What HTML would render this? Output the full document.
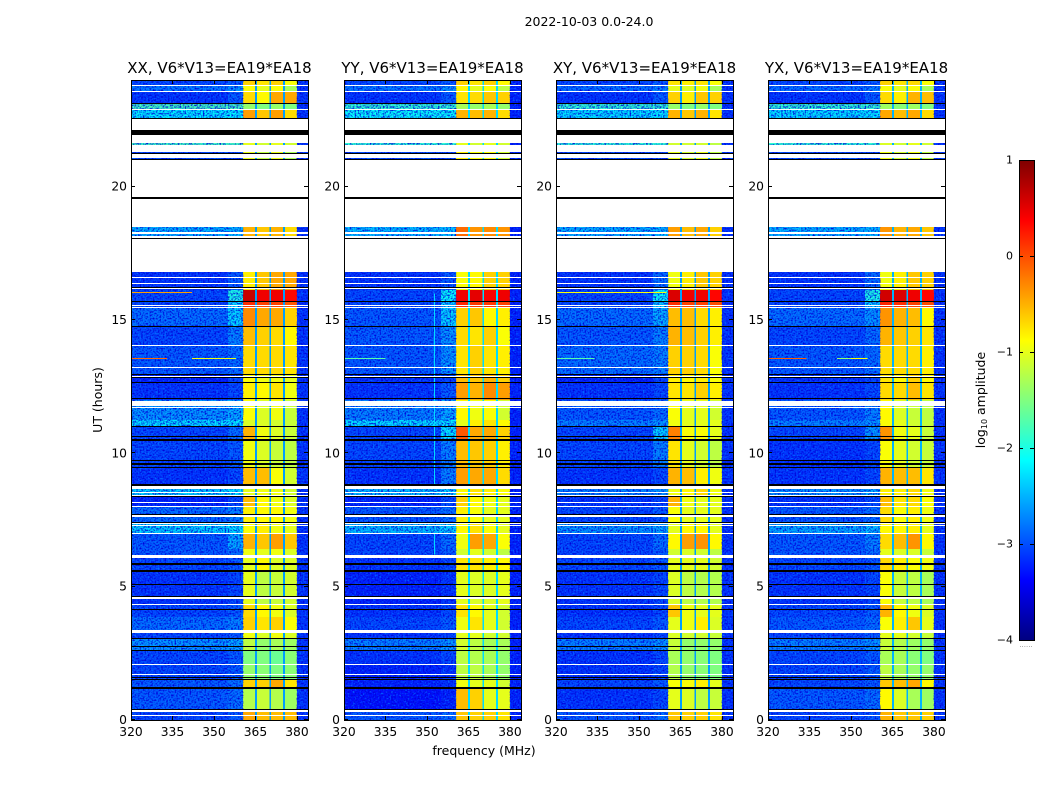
<!DOCTYPE html>
<html>
<head>
<meta charset="utf-8">
<title>Amplitude waterfall 2022-10-03</title>
<style>
html,body{margin:0;padding:0;background:#fff;}
svg{display:block;font-family:"DejaVu Sans","Liberation Sans",sans-serif;fill:#000;}
</style>
</head>
<body>
<svg id="chart" xmlns="http://www.w3.org/2000/svg" width="1050" height="800" viewBox="0 0 1050 800">
  <defs>
    <filter id="speckle-light" x="0" y="0" width="100%" height="100%" color-interpolation-filters="sRGB">
      <feTurbulence type="fractalNoise" baseFrequency="0.6" numOctaves="1" seed="3"/>
      <feColorMatrix values="0 0 0 0 0  0 0 0 0 0.5  0 0 0 0 1  3 0 0 0 -1.55"/>
    </filter>
    <filter id="speckle-dark" x="0" y="0" width="100%" height="100%" color-interpolation-filters="sRGB">
      <feTurbulence type="fractalNoise" baseFrequency="0.6" numOctaves="1" seed="11"/>
      <feColorMatrix values="0 0 0 0 0  0 0 0 0 0  0 0 0 0 0.85  3 0 0 0 -1.3"/>
    </filter>
    <linearGradient id="jet-gradient" x1="0" y1="1" x2="0" y2="0"></linearGradient>
  </defs>
  <rect x="0" y="0" width="1050" height="800" fill="#fff"/>
  <text x="589" y="26" font-size="12.5" text-anchor="middle">2022-10-03 0.0-24.0</text>
  <text x="484" y="755" font-size="12.5" text-anchor="middle">frequency (MHz)</text>
  <text x="102" y="400" font-size="12.5" text-anchor="middle" transform="rotate(-90 102 400)">UT (hours)</text>
  <g id="panels"></g>
  <g id="colorbar"></g>
  <text x="985" y="400" font-size="12.5" text-anchor="middle" transform="rotate(-90 985 400)">log<tspan font-size="8" dy="2">10</tspan><tspan dy="-2"> amplitude</tspan></text>
  <text x="1026" y="647" font-size="7" fill="#888" text-anchor="middle">......</text>
</svg>
<script>
// ---- chart data ----
const panelTitles = ["XX, V6*V13=EA19*EA18","YY, V6*V13=EA19*EA18","XY, V6*V13=EA19*EA18","YX, V6*V13=EA19*EA18"];
const panelKeys = ["xx","yy","xy","yx"];
const freqTicks = [320,335,350,365,380];
const utTicks = [0,5,10,15,20];
const colorbarTicks = [1,0,-1,-2,-3,-4];
// frequency column edges in MHz: low band, near band, A, gap, B, gap, C, gap, D, high edge
const freqEdges = [320,355,360.5,364.8,365.5,370,370.6,375,375.7,380,384];
// UT edges in hours, one more than rows in each level table
const utEdges = [0,0.34,1.16,1.5,2.1,2.59,3.04,3.34,3.86,4.35,5.59,6.07,6.4,7.0,7.43,8,8.36,8.85,9.45,10.5,10.99,11.25,12,12.64,12.97,14.03,14.74,15.45,15.7,16.125,18.075,19,21,21.56,22.54,22.86,23.14,23.59,23.79,24];
// log10 amplitude per UT row: [low, near, A, B, C, D]
const levelsXX = [
[-3,-2.9,-.45,-.55,-.55,-.55],[-2.9,-2.8,-1.25,-1.15,-1.25,-1.35],[-2.9,-2.8,-.65,-.65,-.45,-.75],[-3,-2.9,-1.4,-1.45,-1.5,-1.45],
[-3,-2.9,-1.5,-1.5,-1.6,-1.45],[-2.6,-2.5,-1.2,-1.4,-1.3,-1.35],[-3,-2.9,-.95,-1.05,-.95,-1.05],[-2.8,-2.7,-.65,-.75,-.65,-.9],
[-3,-2.9,-.7,-.85,-.95,-1.05],[-3.1,-3,-1,-1.2,-1.15,-1.1],[-3,-2.9,-1,-.85,-1.05,-1.05],[-2.9,-2.8,-.95,-1,-.95,-1.05],[-2.9,-2.5,-.5,-.6,-.4,-.6],
[-2.3,-2.2,-.9,-.8,-.95,-1],[-2.8,-2.7,-.8,-.85,-.85,-.95],[-3.2,-3,-.55,-.85,-.95,-1.05],[-2.3,-2.2,-1,-.95,-.95,-1.1],
[-3.1,-3,-.55,-.55,-.9,-1.1],[-3,-2.9,-.95,-1.05,-1.15,-1.2],[-3,-2.8,-.5,-.95,-1.05,-1.15],[-2.25,-2.2,-1.05,-1.05,-1.1,-1.15],
[-2.6,-2.5,-.9,-1.05,-.95,-1.15],[-3.1,-3,-.8,-.85,-.75,-.95],[-3.2,-3,-.9,-.95,-.95,-1],[-2.9,-2.8,-.7,-.7,-.7,-.75],
[-3,-2.7,-.55,-.65,-.7,-.85],[-2.8,-2.3,-.3,-.45,-.45,-.65],[-3,-2.2,.15,.05,.05,-.05],[-3,-2,.65,.45,.45,.35],[-3.1,-2.9,-.8,-.6,-.45,-.45],
[-2.45,-2.4,-.5,-.6,-.5,-.7],[-2.45,-2.4,-.5,-.6,-.5,-.7],[-3,-3,-1,-1.2,-1,-1.3],[-1.8,-1.8,-1,-1.1,-1,-1.1],
[-2.2,-2.15,-.4,-.6,-.4,-.7],[-1.8,-1.8,-1.4,-1.5,-1.4,-1.5],[-3.1,-2.9,-.7,-.85,-.45,-.45],[-2.75,-2.6,-.9,-1,-.9,-1.3],[-3,-2.9,-.65,-.75,-.65,-.9]];
const levelsYY = [
[-2.9,-2.8,-.6,-.65,-.65,-.75],[-3.3,-3.2,-.55,-.65,-1,-1],[-3.2,-3.1,-.95,-1,-1,-1.1],[-3.2,-3.1,-1.2,-1.2,-1.3,-1.4],
[-3.1,-3,-1.2,-1.25,-1.3,-1.4],[-2.7,-2.6,-1.1,-1.2,-1.3,-1.3],[-3.1,-3,-1,-1,-1.1,-1.1],[-3,-2.9,-.95,-.75,-1,-1.1],
[-3.1,-3,-.75,-.85,-1,-1.1],[-3.2,-3.1,-1,-1.05,-1.05,-1],[-3.1,-3,-.75,-.75,-.8,-.85],[-3,-2.9,-1.1,-1,-1.1,-1.2],[-3,-2.8,-.95,-.4,-.45,-.9],
[-2.4,-2.3,-.85,-.75,-.9,-1],[-2.9,-2.8,-.8,-.9,-1,-1],[-3.2,-3,-.65,-.85,-.95,-1],[-2.4,-2.3,-.85,-.75,-.8,-.9],
[-3.1,-2.7,-.4,-.45,-.45,-.7],[-3,-2.7,-.55,-.6,-.65,-.8],[-3,-2.2,-.05,-.45,-.45,-.65],[-2.25,-2.2,-1,-.8,-.75,-.85],
[-2.7,-2.5,-.85,-.95,-.9,-1.1],[-3.1,-2.9,-.4,-.5,-.3,-.4],[-3.1,-3,-.55,-.6,-.5,-.65],[-2.9,-2.6,-.75,-.65,-.75,-.8],
[-2.9,-2.6,-.7,-.75,-.65,-.9],[-2.9,-2.3,-.65,-.6,-.85,-.8],[-3,-2.3,.2,.1,.1,.05],[-3,-2.1,.45,.5,.4,.45],[-3.1,-2.9,-.9,-.85,-.65,-.65],
[-2.4,-2.35,-.15,-.35,-.3,-.35],[-2.4,-2.35,-.15,-.35,-.3,-.35],[-3,-3,-.8,-.9,-.9,-1.1],[-1.9,-1.9,-1,-1.1,-1,-1.1],
[-2.1,-2.1,-.5,-.55,-.5,-.7],[-1.9,-1.9,-1.3,-1.4,-1.3,-1.4],[-3.1,-2.9,-.75,-.7,-.6,-.65],[-2.75,-2.6,-.85,-1,-.9,-1.2],[-3,-2.9,-.65,-.75,-.65,-.85]];
const levelsXY = [
[-2.9,-2.8,-.6,-.65,-.65,-.75],[-3.1,-3,-1,-1.05,-1.2,-1.15],[-3,-2.9,-.9,-.9,-.8,-1],[-3.1,-3,-1.25,-1.4,-1.45,-1.5],
[-3.1,-3,-1.3,-1.4,-1.45,-1.5],[-2.7,-2.6,-1.15,-1.4,-1.4,-1.4],[-3.1,-3,-1.05,-1.1,-1.1,-1.15],[-3,-2.9,-1,-.95,-.8,-1.05],
[-3.1,-3,-.6,-.95,-1,-1],[-3.1,-3,-1.05,-1.2,-1.25,-1.25],[-3,-2.9,-1,-1,-1,-1.1],[-3,-2.9,-1.1,-1.05,-1.1,-1.2],[-3,-2.8,-.85,-.4,-.35,-.85],
[-2.6,-2.5,-1,-.85,-.85,-1],[-3,-2.9,-.9,-1,-1,-1],[-3.1,-3,-.5,-.95,-1,-1],[-2.7,-2.6,-.95,-.85,-.7,-.95],
[-3.1,-3,-.5,-.55,-.8,-.95],[-3,-2.7,-.75,-1,-1.1,-1.2],[-3,-2.3,-.25,-.9,-.9,-1],[-2.7,-2.6,-.95,-1,-1,-1],
[-2.9,-2.8,-.9,-1,-1,-1.1],[-3.1,-3,-.75,-.75,-.65,-.8],[-3.2,-3,-.8,-.85,-.8,-.9],[-2.8,-2.7,-.65,-.65,-.7,-.9],
[-2.9,-2.7,-.5,-.55,-.65,-.8],[-2.8,-2.5,-.55,-.55,-.7,-.8],[-3,-2.3,.15,.05,.05,0],[-3,-2.1,.55,.45,.45,.35],[-3.1,-2.8,-.95,-.8,-.6,-.65],
[-2.45,-2.4,-.4,-.55,-.45,-.65],[-2.45,-2.4,-.4,-.55,-.45,-.65],[-3,-3,-1,-1.1,-1,-1.2],[-1.9,-1.9,-1.1,-1.1,-1.1,-1.2],
[-2.25,-2.2,-.5,-.6,-.5,-.75],[-1.9,-1.9,-1.4,-1.5,-1.4,-1.5],[-3.1,-2.9,-.65,-.8,-.6,-.65],[-2.8,-2.7,-1,-1.05,-.95,-1.3],[-3,-2.9,-.75,-.8,-.75,-.9]];
const levelsYX = [
[-3,-2.9,-.5,-.6,-.6,-.65],[-2.9,-2.8,-.85,-1.05,-1.3,-1.35],[-3,-2.9,-.6,-.55,-.45,-.85],[-3,-2.9,-1.2,-1.3,-1.4,-1.4],
[-3,-2.9,-1.3,-1.3,-1.45,-1.5],[-2.7,-2.6,-1.15,-1.25,-1.35,-1.4],[-3,-2.9,-1,-1,-1.1,-1.15],[-2.9,-2.8,-.9,-.8,-.6,-1],
[-3,-2.9,-.5,-.85,-.95,-1.05],[-3.1,-3,-.9,-1.15,-1.2,-1.3],[-3,-2.9,-.7,-.8,-.9,-.95],[-2.9,-2.8,-1,-1.05,-1.05,-1.15],[-2.9,-2.7,-.7,-.55,-.35,-.85],
[-2.5,-2.4,-.85,-.85,-.8,-1],[-2.9,-2.8,-.7,-.9,-.8,-.95],[-3.1,-3,-.55,-.75,-.7,-.9],[-2.6,-2.5,-.8,-.8,-.7,-.95],
[-3.1,-3,-.5,-.55,-.55,-.75],[-3.1,-3,-.9,-1,-1.1,-1.15],[-3,-2.6,-.35,-.95,-1,-1.15],[-2.7,-2.6,-.9,-1,-1.1,-1.15],
[-2.9,-2.7,-.85,-1.05,-1.15,-1.2],[-3.1,-3,-.7,-.7,-.55,-.75],[-3.1,-3,-.75,-.85,-.65,-.85],[-2.9,-2.8,-.7,-.7,-.7,-.8],
[-3,-2.8,-.5,-.6,-.65,-.75],[-2.8,-2.6,-.35,-.5,-.55,-.85],[-3,-2.3,.2,.15,.05,0],[-3,-2,.6,.55,.45,.35],[-3.1,-2.8,-.95,-.8,-.6,-.65],
[-2.45,-2.4,-.35,-.5,-.45,-.6],[-2.45,-2.4,-.35,-.5,-.45,-.6],[-3,-3,-.95,-1.1,-.95,-1.2],[-1.9,-1.9,-1.05,-1.1,-1,-1.1],
[-2.25,-2.2,-.45,-.55,-.45,-.7],[-1.9,-1.9,-1.35,-1.45,-1.35,-1.5],[-3.1,-2.9,-.7,-.8,-.5,-.55],[-2.8,-2.7,-.9,-1,-.9,-1.3],[-3,-2.9,-.65,-.75,-.7,-.9]];
const panelLevels = [levelsXX,levelsYY,levelsXY,levelsYX];
// log10 amplitude of the narrow gaps between blocks and of the top edge
const gapLevels = [-2.6,-2.3,-2.6,-2.5];
const edgeLevels = [-3.1,-3.2,-3.1,-3.1];
// flagged intervals in UT hours, shared by all panels
const whiteStarts = [23.775,23.56,22.875,22.125,21.64,21.3,21.09,19.61,18.49,18.21,18.075,16.8,16.585,16.36,16.15,15.54,15.45,14.03,13.21,12.86,11.79,11.7,8.65,8.5,8.4,8.13,7.99,7.6,7.36,7.28,6.99,6.06,4.55,4.33,3.27,2.07,1.71,0.31,0.14];
const whiteEnds   = [23.8125,23.6,22.92,22.52,21.94,21.56,21.21,20.99,19.55,18.31,18.15,18.04,16.62,16.39,16.2,15.58,15.49,14.06,13.25,12.91,11.97,11.74,8.775,8.54,8.44,8.16,8.03,7.67,7.41,7.33,7.02,6.19,4.6,4.36,3.375,2.11,1.74,0.375,0.19];
const blackStarts = [23.1,22.52,21.94,21.21,20.99,19.55,18.04,16.2,15.675,14.74,12.92,12.825,12.64,12.06,11.01,10.61,10.48,9.71,9.58,9.44,8.775,8.36,7.69,7.41,5.83,5.56,5.06,4.6,4.11,3.02,2.76,2.58,1.58,1.5,1.16,0.39];
const blackEnds   = [23.14,22.56,22.125,21.25,21.03,19.61,18.075,16.24,15.7,14.775,12.97,12.86,12.675,12.09,11.04,10.65,10.52,9.75,9.62,9.49,8.85,8.4,7.725,7.44,5.87,5.625,5.11,4.65,4.16,3.06,2.79,2.625,1.61,1.54,1.23,0.43];
// narrow-line interference: panel index, start MHz, end MHz, UT, log10 amplitude
const rfiPanels = [0,0,3,3,3,2,2,1,0,2];
const rfiStarts = [320,342,320,345,350,320,320,320,320,320];
const rfiEnds   = [333,358,334,350,356,360,334,335,342,360];
const rfiUts    = [13.57,13.57,13.57,13.57,13.57,16.05,13.57,13.57,16.05,16.05];
const rfiLevels = [-.15,-.95,-.1,-1.4,-.9,-.9,-1.7,-1.7,-.4,-.9];
// vertical interference: panel index, MHz, UT start, UT end, log10 amplitude
const vlinePanels = [1,1];
const vlineFreqs = [352.5,352.5];
const vlineStarts = [6.2,8.85];
const vlineEnds = [7.0,16.0];
const vlineLevels = [-2.3,-2.3];

// ---- layout and scales ----
const svgNS = "http://www.w3.org/2000/svg";
const panelLefts = [131,344,556,768];
const plotWidth = 177, plotTop = 80, plotBottom = 720;
const freqMin = 320, freqMax = 384, utMax = 24;
const cmin = -4, cmax = 1;
const cbLeft = 1019, cbWidth = 15, cbTop = 160, cbBottom = 640;
function xScale(p,f){ return panelLefts[p] + (f-freqMin)*plotWidth/(freqMax-freqMin); }
function yScale(u){ return plotBottom - u*(plotBottom-plotTop)/utMax; }
function cbScale(v){ return cbBottom - (v-cmin)*(cbBottom-cbTop)/(cmax-cmin); }
function clip01(v){ return Math.max(0,Math.min(1,v)); }
function jet(t){
  const r = clip01(1.5-Math.abs(4*t-3)), g = clip01(1.5-Math.abs(4*t-2)), b = clip01(1.5-Math.abs(4*t-1));
  return "rgb("+Math.round(r*255)+","+Math.round(g*255)+","+Math.round(b*255)+")";
}
function colorOf(v){ return jet(clip01((v-cmin)/(cmax-cmin))); }
function mk(tag,parent,attrs){
  const el = document.createElementNS(svgNS,tag);
  for(const k in attrs) el.setAttribute(k,attrs[k]);
  parent.appendChild(el);
  return el;
}
function minus(v){ return String(v).replace("-","\u2212"); }
// whole-pixel band between two UT values, always at least one pixel tall
function band(uLow,uHigh){
  const y = Math.round(yScale(uHigh));
  return {y:y,h:Math.max(1,Math.round(yScale(uLow))-y)};
}

const panelsRoot = document.getElementById("panels");
panelTitles.forEach(function(title,p){
  const key = panelKeys[p];
  const g = mk("g",panelsRoot,{});
  
  
  const bg = mk("rect",g,{x:panelLefts[p],y:plotTop,width:plotWidth,height:plotBottom-plotTop,fill:"#fff"});
  
  
  const cells = mk("g",g,{"shape-rendering":"crispEdges"});
  
  
  const levels = panelLevels[p];
  levels.forEach(function(row,i){
    const vals = [row[0],row[1],row[2],gapLevels[p],row[3],gapLevels[p],row[4],gapLevels[p],row[5],edgeLevels[p]];
    const b = band(utEdges[i],utEdges[i+1]);
    vals.forEach(function(v,c){
      const x0 = xScale(p,freqEdges[c]), x1 = xScale(p,freqEdges[c+1]);
      const cell = mk("rect",cells,{x:x0,y:b.y,width:x1-x0,height:b.h,fill:colorOf(v)});
      
      
    });
  });
  const lowW = xScale(p,360.5)-panelLefts[p];
  const hiX = xScale(p,380);
  const hiW = panelLefts[p]+plotWidth-hiX;
  [[panelLefts[p],lowW],[hiX,hiW]].forEach(function(span){
    const sl = mk("rect",g,{x:span[0],y:plotTop,width:span[1],height:plotBottom-plotTop,filter:"url(#speckle-light)"});
    
    
    const sd = mk("rect",g,{x:span[0],y:plotTop,width:span[1],height:plotBottom-plotTop,filter:"url(#speckle-dark)"});
    
    
  });
  const top = mk("g",g,{"shape-rendering":"crispEdges"});
  
  
  rfiPanels.forEach(function(rp,i){
    if(rp!==p) return;
    const line = mk("rect",top,{x:xScale(p,rfiStarts[i]),y:Math.round(yScale(rfiUts[i])),width:xScale(p,rfiEnds[i])-xScale(p,rfiStarts[i]),height:1,fill:colorOf(rfiLevels[i])});
    
    
  });
  vlinePanels.forEach(function(rp,i){
    if(rp!==p) return;
    const line = mk("rect",top,{x:Math.round(xScale(p,vlineFreqs[i])),y:yScale(vlineEnds[i]),width:1,height:yScale(vlineStarts[i])-yScale(vlineEnds[i]),fill:colorOf(vlineLevels[i])});
    
    
  });
  whiteStarts.forEach(function(u,i){
    const b = band(u,whiteEnds[i]);
    const f = mk("rect",top,{x:panelLefts[p],y:b.y,width:plotWidth,height:b.h,fill:"#fff"});
    
    
  });
  blackStarts.forEach(function(u,i){
    const b = band(u,blackEnds[i]);
    const f = mk("rect",top,{x:panelLefts[p],y:b.y,width:plotWidth,height:b.h,fill:"#000"});
    
    
  });
  // frame
  const frame = mk("rect",g,{x:panelLefts[p]+0.5,y:plotTop+0.5,width:plotWidth,height:plotBottom-plotTop,fill:"none",stroke:"#000","stroke-width":1});
  
  
  // x ticks
  freqTicks.forEach(function(f){
    const x = Math.round(xScale(p,f))+0.5;
    const t1 = mk("line",g,{x1:x,x2:x,y1:plotBottom,y2:plotBottom-4,stroke:"#000"});
    
    
    const t2 = mk("line",g,{x1:x,x2:x,y1:plotTop,y2:plotTop+4,stroke:"#000"});
    
    
    const lab = mk("text",g,{x:xScale(p,f),y:plotBottom+16,"font-size":12.3,"text-anchor":"middle"});
    lab.textContent = String(f);
    
    
  });
  // y ticks
  utTicks.forEach(function(u){
    const y = Math.round(yScale(u))-0.5;
    const t1 = mk("line",g,{x1:panelLefts[p],x2:panelLefts[p]+4,y1:y,y2:y,stroke:"#000"});
    
    
    const t2 = mk("line",g,{x1:panelLefts[p]+plotWidth,x2:panelLefts[p]+plotWidth-4,y1:y,y2:y,stroke:"#000"});
    
    
    const lab = mk("text",g,{x:panelLefts[p]-4,y:yScale(u)+4,"font-size":12.3,"text-anchor":"end"});
    lab.textContent = String(u);
    
    
  });
  const ttl = mk("text",g,{x:panelLefts[p]+plotWidth/2,y:73,"font-size":15,"text-anchor":"middle"});
  ttl.textContent = title;
  
  
});

// colorbar
const grad = document.getElementById("jet-gradient");
for(let i=0;i<=32;i++){
  mk("stop",grad,{offset:(i/32),"stop-color":jet(i/32)});
}
const cb = document.getElementById("colorbar");
const cbRect = mk("rect",cb,{x:cbLeft+0.5,y:cbTop+0.5,width:cbWidth,height:cbBottom-cbTop,fill:"url(#jet-gradient)",stroke:"#000","stroke-width":1});


colorbarTicks.forEach(function(v){
  const y = Math.round(cbScale(v))+0.5;
  const a = mk("line",cb,{x1:cbLeft,x2:cbLeft+4,y1:y,y2:y,stroke:"#000"});
  
  
  const b = mk("line",cb,{x1:cbLeft+cbWidth,x2:cbLeft+cbWidth-4,y1:y,y2:y,stroke:"#000"});
  
  
  const lab = mk("text",cb,{x:cbLeft-6,y:cbScale(v)+3.5,"font-size":11,"text-anchor":"end"});
  lab.textContent = minus(v);
  
  
});
</script>
</body>
</html>
